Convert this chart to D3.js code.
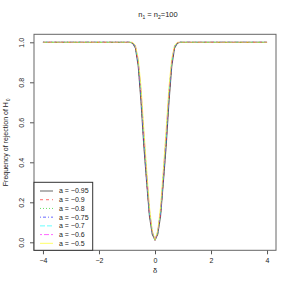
<!DOCTYPE html>
<meta charset="utf-8">
<title>Frequency of rejection</title>
<style>
body { margin: 0; background: #fff; }
svg { font-family: "Liberation Sans", Arial, sans-serif; }
svg text { fill: #222; }
.tick text { font-size: 7px; }
</style>
<body>
<script src="https://d3js.org/d3.v7.min.js"></script>
<script>

var delta = [-4, -3, -2, -1.5, -1.2, -1, -0.9, -0.8, -0.7, -0.6, -0.5, -0.4, -0.3, -0.2, -0.1,
  0, 0.1, 0.2, 0.3, 0.4, 0.5, 0.6, 0.7, 0.8, 0.9, 1, 1.2, 1.5, 2, 3, 4];

var aLabels = ["a = \u22120.95", "a = \u22120.9", "a = \u22120.8", "a = \u22120.75",
  "a = \u22120.7", "a = \u22120.6", "a = \u22120.5"];

var freqA095 = [1, 1, 1, 1, 1, 1, 1, 0.995, 0.97, 0.88, 0.70, 0.48, 0.30, 0.13, 0.04,
  0.01, 0.04, 0.13, 0.30, 0.48, 0.70, 0.88, 0.97, 0.995, 1, 1, 1, 1, 1, 1, 1];
var freqA09 = [1, 1, 1, 1, 1, 1, 1, 0.997, 0.975, 0.89, 0.72, 0.50, 0.31, 0.14, 0.045,
  0.01, 0.045, 0.14, 0.31, 0.50, 0.72, 0.89, 0.975, 0.997, 1, 1, 1, 1, 1, 1, 1];
var freqA08 = [1, 1, 1, 1, 1, 1, 1, 0.997, 0.977, 0.895, 0.73, 0.51, 0.32, 0.145, 0.047,
  0.01, 0.047, 0.145, 0.32, 0.51, 0.73, 0.895, 0.977, 0.997, 1, 1, 1, 1, 1, 1, 1];
var freqA075 = [1, 1, 1, 1, 1, 1, 1, 0.998, 0.98, 0.90, 0.74, 0.52, 0.33, 0.15, 0.05,
  0.011, 0.05, 0.15, 0.33, 0.52, 0.74, 0.90, 0.98, 0.998, 1, 1, 1, 1, 1, 1, 1];
var freqA07 = [1, 1, 1, 1, 1, 1, 1, 0.998, 0.98, 0.905, 0.75, 0.53, 0.34, 0.155, 0.052,
  0.011, 0.052, 0.155, 0.34, 0.53, 0.75, 0.905, 0.98, 0.998, 1, 1, 1, 1, 1, 1, 1];
var freqA06 = [1, 1, 1, 1, 1, 1, 1, 0.999, 0.983, 0.91, 0.76, 0.55, 0.35, 0.165, 0.055,
  0.011, 0.055, 0.165, 0.35, 0.55, 0.76, 0.91, 0.983, 0.999, 1, 1, 1, 1, 1, 1, 1];
var freqA05 = [1, 1, 1, 1, 1, 1, 1, 1, 0.985, 0.92, 0.78, 0.57, 0.37, 0.18, 0.06,
  0.012, 0.06, 0.18, 0.37, 0.57, 0.78, 0.92, 0.985, 1, 1, 1, 1, 1, 1, 1, 1];

var xTicks = [-4, -2, 0, 2, 4];
var yTicks = [0, 0.2, 0.4, 0.6, 0.8, 1.0];

var colors = ["#000000", "#FF0000", "#00CD00", "#0000FF", "#00FFFF", "#FF00FF", "#FFFF00"];
var dashes = [null, "3,3", "1,2", "1,2,3,2", "5,2", "2,2,5,2", null];

var series = [freqA095, freqA09, freqA08, freqA075, freqA07, freqA06, freqA05].map(function(v, i) {
  return { label: aLabels[i], values: v, color: colors[i], dash: dashes[i] };
});

var W = 294, H = 294;
var plot = { left: 34, right: 276, top: 34.3, bottom: 250.3 };

var x = d3.scaleLinear().domain([-4.32, 4.32]).range([plot.left, plot.right]);
var y = d3.scaleLinear().domain([-0.04, 1.04]).range([plot.bottom, plot.top]);

var svg = d3.select("body").append("svg")
    .attr("width", W)
    .attr("height", H);

var line = d3.line()
    .x(function(d, i) { return x(delta[i]); })
    .y(function(d) { return y(d); });

svg.append("g")
  .selectAll("path")
    .data(series)
  .enter().append("path")
    .attr("d", function(d) { return line(d.values); })
    .attr("fill", "none")
    .attr("stroke", function(d) { return d.color; })
    .attr("stroke-opacity", 0.75)
    .attr("stroke-width", 0.8)
    .attr("stroke-dasharray", function(d) { return d.dash; });

// axes
var xAxis = svg.append("g")
    .attr("transform", "translate(0," + plot.bottom + ")")
    .call(d3.axisBottom(x).tickValues(xTicks).tickSize(4).tickPadding(4)
      .tickFormat(function(d) { return d < 0 ? "\u2212" + Math.abs(d) : d; }));
xAxis.select(".domain").remove();

var yAxis = svg.append("g")
    .attr("transform", "translate(" + plot.left + ",0)")
    .call(d3.axisLeft(y).tickValues(yTicks).tickSize(4).tickFormat(d3.format(".1f")));
yAxis.select(".domain").remove();
yAxis.selectAll(".tick text")
    .attr("x", 0).attr("dy", 0)
    .attr("text-anchor", "middle")
    .attr("transform", "translate(-10,0) rotate(-90)");

svg.selectAll(".tick line").attr("stroke", "#555");

svg.append("rect")
    .attr("x", plot.left).attr("y", plot.top)
    .attr("width", plot.right - plot.left)
    .attr("height", plot.bottom - plot.top)
    .attr("fill", "none")
    .attr("stroke", "#666");

// title
var title = svg.append("text")
    .attr("x", 158).attr("y", 17)
    .attr("text-anchor", "middle")
    .attr("font-size", 7.5);
title.append("tspan").text("n");
title.append("tspan").attr("font-size", 5).attr("dy", 1.5).text("1");
title.append("tspan").attr("dy", -1.5).text(" = n");
title.append("tspan").attr("font-size", 5).attr("dy", 1.5).text("2");
title.append("tspan").attr("dy", -1.5).text("=100");

// axis titles
svg.append("text")
    .attr("x", (plot.left + plot.right) / 2).attr("y", 273)
    .attr("text-anchor", "middle")
    .attr("font-size", 7.5)
    .text("\u03b4");

var ylab = svg.append("text")
    .attr("transform", "translate(8," + ((plot.top + plot.bottom) / 2) + ") rotate(-90)")
    .attr("text-anchor", "middle")
    .attr("font-size", 7);
ylab.append("tspan").text("Frequency of rejection of H");
ylab.append("tspan").attr("font-size", 5).attr("dx", 1).attr("dy", 1.5).text("0");

// legend
var legend = svg.append("g");
legend.append("rect")
    .attr("x", plot.left).attr("y", 182.3)
    .attr("width", 58.7).attr("height", plot.bottom - 182.3)
    .attr("fill", "#fff")
    .attr("stroke", "#333");

var row = legend.selectAll(".row")
    .data(series)
  .enter().append("g")
    .attr("transform", function(d, i) { return "translate(0," + (191 + i * 8.72) + ")"; });

row.append("line")
    .attr("x1", 40).attr("x2", 53)
    .attr("stroke", function(d) { return d.color; })
    .attr("stroke-opacity", 0.75)
    .attr("stroke-width", 0.8)
    .attr("stroke-dasharray", function(d) { return d.dash; });

row.append("text")
    .attr("x", 59).attr("dy", "0.35em")
    .attr("font-size", 7)
    .text(function(d) { return d.label; });

</script>
</body>
